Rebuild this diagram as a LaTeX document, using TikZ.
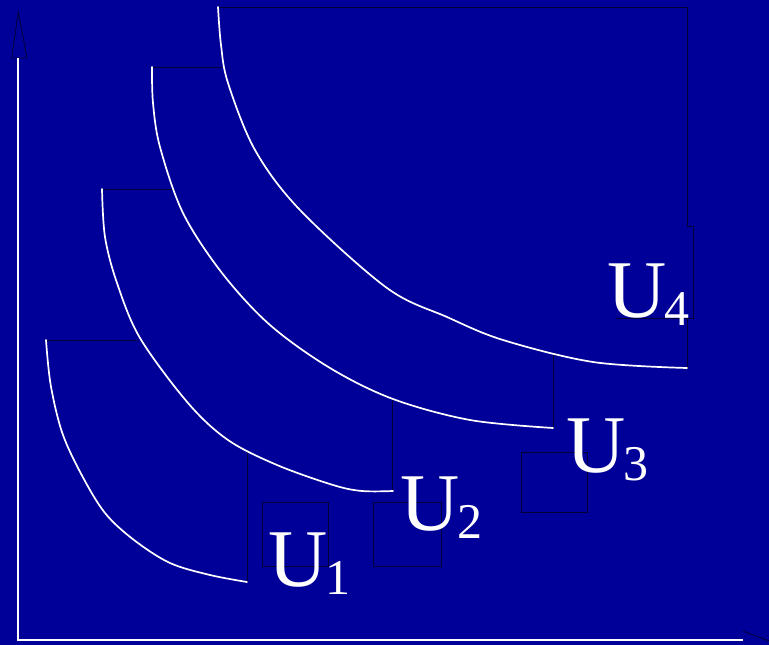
\documentclass[tikz,border=0pt]{standalone}
\usepackage{fontspec}
\setmainfont{Liberation Serif}
\definecolor{bgblue}{RGB}{0,0,153}
\definecolor{darkedge}{RGB}{0,0,55}
\tikzset{
  curve/.style={white, line width=1.7pt, line cap=round, line join=round},
  axisline/.style={white, line width=1.8pt},
  edgeline/.style={darkedge, line width=0.8pt},
  ulabel/.style={anchor=base west, inner sep=0pt, text=white, font=\fontsize{82}{82}\selectfont},
}
\newcommand{\ulab}[1]{U\kern-1.5pt{\fontsize{50}{50}\selectfont\raisebox{-8pt}{#1}}}
\begin{document}
\begin{tikzpicture}[x=1pt,y=-1pt]
\fill[bgblue] (0,0) rectangle (769,645);
\useasboundingbox (0,0) rectangle (769,645);
% faint box edges
\draw[edgeline] (46,340) -- (138,340);
\draw[edgeline] (247,452) -- (247,582);
\draw[edgeline] (102,189) -- (173,189);
\draw[edgeline] (392,398) -- (392,491);
\draw[edgeline] (152,67) -- (222,67);
\draw[edgeline] (553,353) -- (553,428);
\draw[edgeline] (218,7.5) -- (687,7.5) -- (687,226) -- (693,226) -- (693,318) -- (616,318);
\draw[edgeline] (687,318) -- (687,368);
\draw[edgeline] (262,502) rectangle (328,566);
\draw[edgeline] (373,502) rectangle (441,566);
\draw[edgeline] (521,452) rectangle (587,512);
% arrow heads (dark outlines)
\coordinate (ytip) at (18.3,12);
\coordinate (ybl) at (11.7,58);
\coordinate (ybr) at (27,58);
\draw[edgeline] (ytip) -- (ybr) -- (ybl) -- cycle;
\coordinate (xa) at (743,631);
\coordinate (xb) at (769,641);
\draw[edgeline] (xa) -- (xb);
% axes
\coordinate (ytop) at (18.3,58);
\coordinate (origin) at (18.3,640);
\coordinate (xend) at (743,640);
\draw[axisline] (ytop) -- (origin) -- (xend);
% indifference curves
\draw[curve] plot[smooth, tension=0.55] coordinates {(46,340) (50.7,385) (62.3,433) (81.7,475) (105,513) (134,540) (170,563) (210,575) (247,582)};
\draw[curve] plot[smooth, tension=0.55] coordinates {(102,189) (105,237) (117,283) (140,338) (188,403) (228,440) (277,465) (333,485) (362,491) (393,491)};
\draw[curve] plot[smooth, tension=0.55] coordinates {(152,67) (153,103) (160,147) (183,213) (222,273) (270,325) (330,368) (393,399) (470,420) (553,428)};
\draw[curve] plot[smooth, tension=0.55] coordinates {(218,7) (221,45) (228,83) (255,150) (300,210) (387,288) (447,317) (503,340) (593,362) (687,368)};
% labels
\node[ulabel] (u1) at (268,586) {\ulab{1}};
\node[ulabel] (u2) at (400,530) {\ulab{2}};
\node[ulabel] (u3) at (566,472) {\ulab{3}};
\node[ulabel] (u4) at (607,317) {\ulab{4}};
\end{tikzpicture}
\end{document}
